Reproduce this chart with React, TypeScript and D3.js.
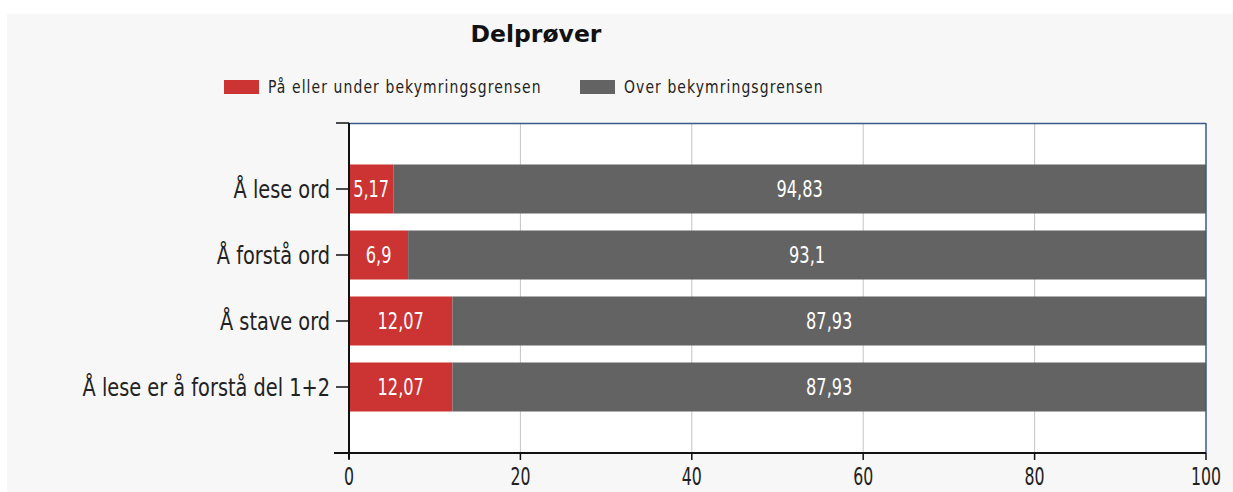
import React from "react";
import * as d3 from "d3";

// chart values
const categories = ["Å lese ord", "Å forstå ord", "Å stave ord", "Å lese er å forstå del 1+2"];
const underValues = [5.17, 6.9, 12.07, 12.07];
const overValues = [94.83, 93.1, 87.93, 87.93];
const seriesNames = ["På eller under bekymringsgrensen", "Over bekymringsgrensen"];
const seriesColors = ["#cc3333", "#636363"];
const xTicks = [0, 20, 40, 60, 80, 100];

const W = 1233;
const H = 492;
const plot = { left: 349, right: 1206, top: 123, bottom: 453 };
const font = "'DejaVu Sans Condensed', 'DejaVu Sans', sans-serif";

const fmt = (v: number) => String(v).replace(".", ",");

// text stretched a bit vertically, the source picture is taller than wide
const T = ({ x, y, sy, children, ...rest }: any) => (
  <text transform={`translate(${x},${y}) scale(1,${sy})`} {...rest}>
    {children}
  </text>
);

export default function App() {
  const x = d3.scaleLinear().domain([0, 100]).range([plot.left, plot.right]);
  const y = d3.scalePoint<string>().domain(categories).range([plot.top, plot.bottom]).padding(1);
  const barH = 49;

  const rows = categories.map((c, i) => ({
    cat: c,
    segs: [
      { start: 0, end: underValues[i], v: underValues[i], color: seriesColors[0] },
      { start: underValues[i], end: underValues[i] + overValues[i], v: overValues[i], color: seriesColors[1] },
    ],
  }));

  return (
    <svg
      width={W}
      height={H}
      style={{ position: "absolute", left: 0, top: 0, fontFamily: font }}
    >
      <rect x={0} y={0} width={W} height={H} fill="#ffffff" />
      <rect x={7} y={14} width={W - 7} height={H - 14} fill="#f7f7f7" />
      <rect x={plot.left} y={plot.top} width={plot.right - plot.left} height={plot.bottom - plot.top} fill="#ffffff" />

      {/* title */}
      <T x={536} y={42} sy={1.0} textAnchor="middle" fontSize={23.5} fontWeight="bold" fill="#111"
        fontFamily="'DejaVu Sans', sans-serif">
        Delprøver
      </T>

      {/* legend */}
      {seriesNames.map((n, i) => {
        const lx = i === 0 ? 224 : 580;
        return (
          <g key={n}>
            <rect x={lx} y={80} width={35} height={14} fill={seriesColors[i]} />
            <T x={lx + 44} y={93} sy={1.15} fontSize={15.5} letterSpacing={1.1} fill="#222">
              {n}
            </T>
          </g>
        );
      })}

      {/* gridlines */}
      {xTicks.slice(1, -1).map((t) => (
        <line key={t} x1={x(t)} x2={x(t)} y1={plot.top} y2={plot.bottom} stroke="#c4c4c4" strokeWidth={1} />
      ))}

      {/* bars */}
      {rows.map((r) => (
        <g key={r.cat}>
          {r.segs.map((s, j) => (
            <g key={j}>
              <rect
                x={x(s.start)}
                y={(y(r.cat) as number) - barH / 2}
                width={x(s.end) - x(s.start)}
                height={barH}
                fill={s.color}
              />
              <T
                x={(x(s.start) + x(s.end)) / 2}
                y={(y(r.cat) as number) + 8}
                sy={1.25}
                textAnchor="middle"
                fontSize={18}
                fill="#ffffff"
              >
                {fmt(s.v)}
              </T>
            </g>
          ))}
        </g>
      ))}

      {/* frame */}
      <line x1={plot.left} x2={plot.right} y1={plot.top + 0.5} y2={plot.top + 0.5} stroke="#3b5a8a" strokeWidth={1.5} />
      <line x1={plot.right} x2={plot.right} y1={plot.top} y2={plot.bottom} stroke="#3b5a8a" strokeWidth={1.5} />
      <line x1={plot.left - 13} x2={plot.left} y1={plot.top} y2={plot.top} stroke="#111" strokeWidth={1.5} />

      {/* y axis */}
      <line x1={plot.left} x2={plot.left} y1={plot.top} y2={plot.bottom + 6} stroke="#111" strokeWidth={2} />
      {categories.map((c) => (
        <g key={c}>
          <line x1={plot.left - 13} x2={plot.left} y1={y(c)} y2={y(c)} stroke="#111" strokeWidth={1.5} />
          <T x={plot.left - 19} y={(y(c) as number) + 9} sy={1.15} textAnchor="end" fontSize={21.5} fill="#222">
            {c}
          </T>
        </g>
      ))}

      {/* x axis */}
      <line x1={plot.left - 15} x2={plot.right} y1={plot.bottom} y2={plot.bottom} stroke="#111" strokeWidth={2} />
      {xTicks.map((t) => (
        <g key={t}>
          <line x1={x(t)} x2={x(t)} y1={plot.bottom} y2={plot.bottom + 7} stroke="#111" strokeWidth={1.5} />
          <T x={x(t)} y={plot.bottom + 32} sy={1.4} textAnchor="middle" fontSize={17.5} fill="#222">
            {t}
          </T>
        </g>
      ))}
    </svg>
  );
}
